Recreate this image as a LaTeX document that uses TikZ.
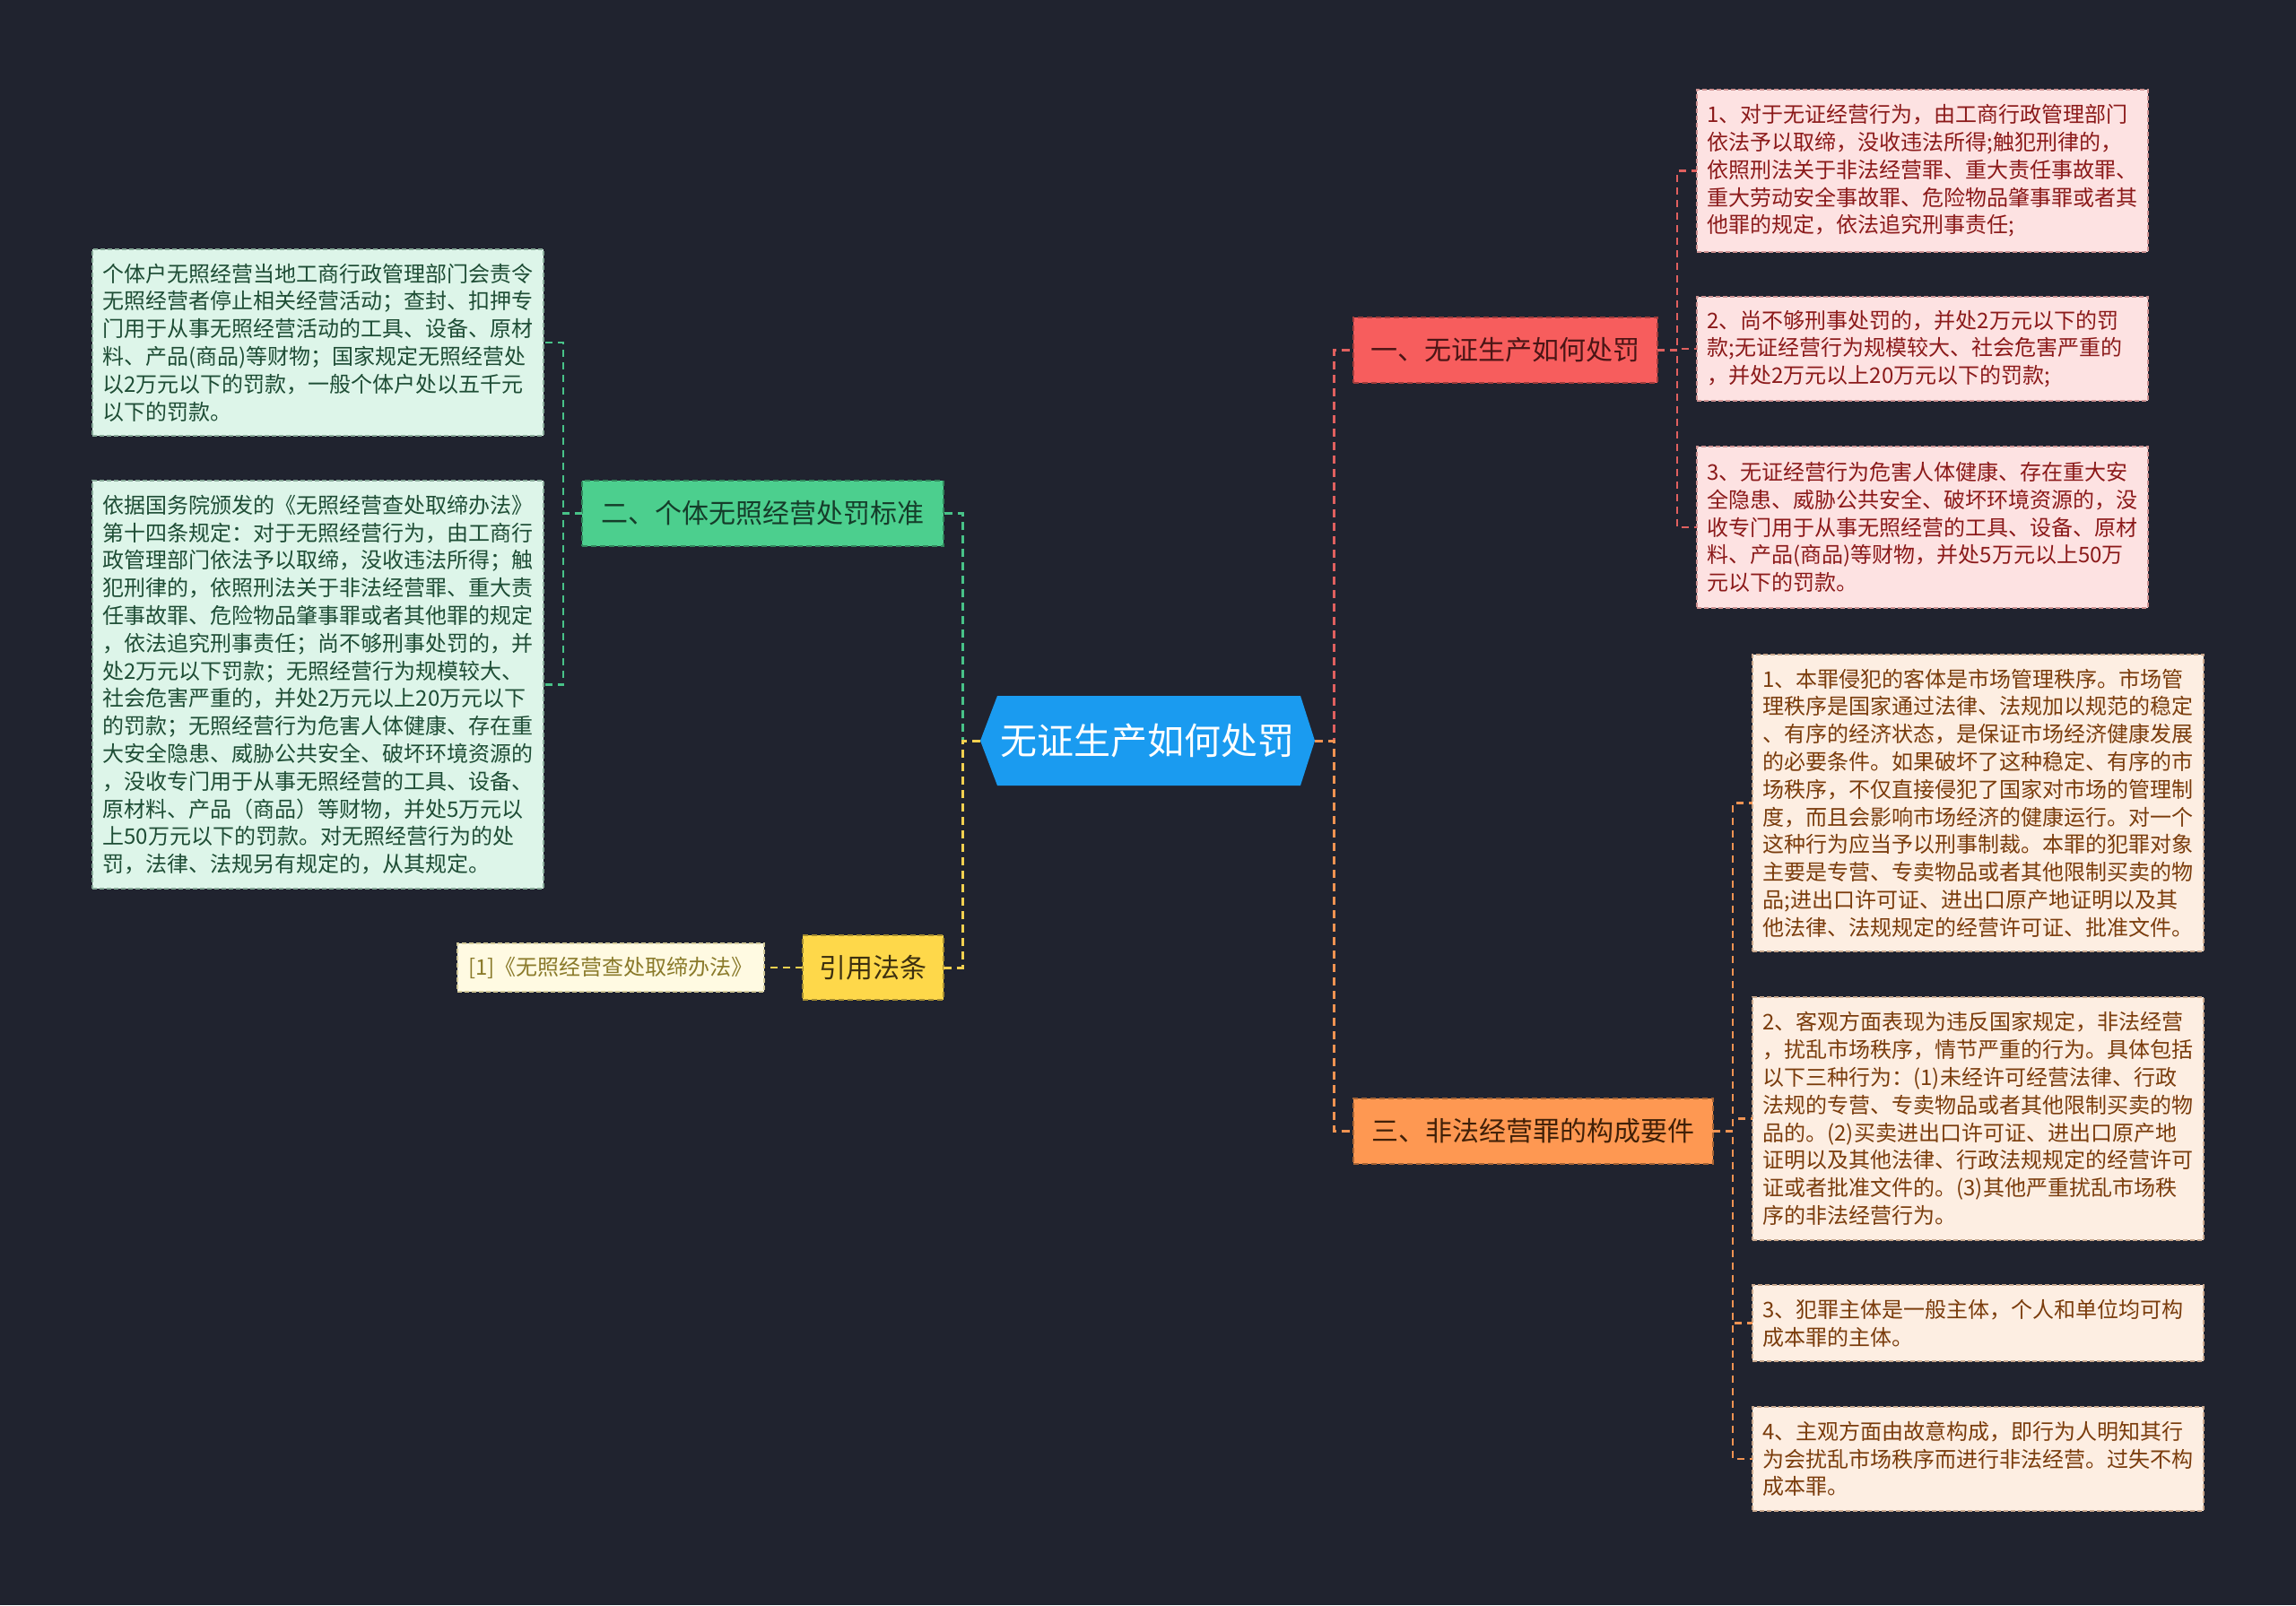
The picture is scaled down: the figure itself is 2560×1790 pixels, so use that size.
\documentclass[tikz,border=0pt]{standalone}
\usepackage{fontspec}
\setmainfont{Noto Sans CJK SC}
\usetikzlibrary{backgrounds}
\definecolor{bgc}{HTML}{20232F}
\definecolor{cblue}{HTML}{1A9BF0}
\definecolor{redB}{HTML}{F75D5D}
\definecolor{redBt}{HTML}{4A1515}
\definecolor{redL}{HTML}{FDE2E2}
\definecolor{redLt}{HTML}{8B1A1A}
\definecolor{redLine}{HTML}{E0605F}
\definecolor{orgB}{HTML}{FE9852}
\definecolor{orgBt}{HTML}{402008}
\definecolor{orgL}{HTML}{FDEEE2}
\definecolor{orgLt}{HTML}{7A3C0C}
\definecolor{orgLine}{HTML}{F09352}
\definecolor{grnB}{HTML}{4CCF8E}
\definecolor{grnBt}{HTML}{153D2A}
\definecolor{grnL}{HTML}{DDF5E9}
\definecolor{grnLt}{HTML}{1E4D35}
\definecolor{grnLine}{HTML}{48C288}
\definecolor{yelB}{HTML}{FED84A}
\definecolor{yelBt}{HTML}{3D3010}
\definecolor{yelL}{HTML}{FFFAE2}
\definecolor{yelLt}{HTML}{8A7A2A}
\definecolor{yelLine}{HTML}{F2D050}
\begin{document}
\begin{tikzpicture}[x=0.5pt,y=-0.5pt,
  base/.style={rectangle, inner sep=0pt, outer sep=0pt},
  br/.style={base, minimum height=36.5pt, font=\fontsize{15pt}{18pt}\selectfont, draw, line width=0.8pt, dash pattern=on 3pt off 2pt},
  leaf/.style={base, minimum width=251.5pt, text width=240pt, align=left, font=\fontsize{12pt}{15.4pt}\selectfont, draw, line width=0.6pt, dash pattern=on 2.5pt off 1.5pt},
  gleaf/.style={leaf, fill=grnL, text=grnLt, draw=grnLt!45!grnL},
  rleaf/.style={leaf, fill=redL, text=redLt, draw=redLt!40!redL},
  oleaf/.style={leaf, fill=orgL, text=orgLt, draw=orgLt!40!orgL},
  con/.style={line width=1.5pt, dash pattern=on 4.5pt off 3pt},
  con2/.style={line width=1.2pt, dash pattern=on 4pt off 3pt}]
\useasboundingbox (0,0) rectangle (2560,1790);
% central node
\node[base, minimum width=186.5pt, minimum height=50pt, text=white, font=\fontsize{20.5pt}{24pt}\selectfont] (c) at (1279.5,826) {无证生产如何处罚};
\begin{scope}[on background layer]
  \fill[bgc] (0,0) rectangle (2560,1790);
  \fill[cblue] ([xshift=9.5pt]c.north west) -- ([xshift=-8pt]c.north east) -- (c.east) -- ([xshift=-8pt]c.south east) -- ([xshift=9.5pt]c.south west) -- (c.west) -- cycle;
\end{scope}
% branches
\node[br, fill=redB, draw=redB!65!black, text=redBt, minimum width=169.5pt] (b1) at (1678.5,390.5) {一、无证生产如何处罚};
\node[br, fill=orgB, draw=orgB!65!black, text=orgBt, minimum width=200.5pt] (b3) at (1709.5,1261.5) {三、非法经营罪的构成要件};
\node[br, fill=grnB, draw=grnB!65!black, text=grnBt, minimum width=201.5pt] (b2) at (850.5,572.5) {二、个体无照经营处罚标准};
\node[br, fill=yelB, draw=yelB!65!black, text=yelBt, minimum width=78.5pt, minimum height=36pt] (b4) at (973.5,1079) {引用法条};
% cite leaf
\node[base, fill=yelL, text=yelLt, draw=yelLt!40!yelL, line width=0.6pt, dash pattern=on 2.5pt off 1.5pt, minimum width=171pt, minimum height=27pt, font=\fontsize{12pt}{15pt}\selectfont] (cite) at (681,1079) {[1]《无照经营查处取缔办法》};
% green leaves
\node[gleaf, minimum height=104pt] (g1) at (354.5,382) {个体户无照经营当地工商行政管理部门会责令\\
无照经营者停止相关经营活动；查封、扣押专\\
门用于从事无照经营活动的工具、设备、原材\\
料、产品(商品)等财物；国家规定无照经营处\\
以2万元以下的罚款，一般个体户处以五千元\\
以下的罚款。};
\node[gleaf, minimum height=227.5pt] (g2) at (354.5,763.5) {依据国务院颁发的《无照经营查处取缔办法》\\
第十四条规定：对于无照经营行为，由工商行\\
政管理部门依法予以取缔，没收违法所得；触\\
犯刑律的，依照刑法关于非法经营罪、重大责\\
任事故罪、危险物品肇事罪或者其他罪的规定\\
，依法追究刑事责任；尚不够刑事处罚的，并\\
处2万元以下罚款；无照经营行为规模较大、\\
社会危害严重的，并处2万元以上20万元以下\\
的罚款；无照经营行为危害人体健康、存在重\\
大安全隐患、威胁公共安全、破坏环境资源的\\
，没收专门用于从事无照经营的工具、设备、\\
原材料、产品（商品）等财物，并处5万元以\\
上50万元以下的罚款。对无照经营行为的处\\
罚，法律、法规另有规定的，从其规定。};
% red leaves
\node[rleaf, minimum height=90.5pt] (r1) at (2143.5,190.5) {1、对于无证经营行为，由工商行政管理部门\\
依法予以取缔，没收违法所得;触犯刑律的，\\
依照刑法关于非法经营罪、重大责任事故罪、\\
重大劳动安全事故罪、危险物品肇事罪或者其\\
他罪的规定，依法追究刑事责任;};
\node[rleaf, minimum height=58pt] (r2) at (2143.5,389) {2、尚不够刑事处罚的，并处2万元以下的罚\\
款;无证经营行为规模较大、社会危害严重的\\
，并处2万元以上20万元以下的罚款;};
\node[rleaf, minimum height=90pt] (r3) at (2143.5,588) {3、无证经营行为危害人体健康、存在重大安\\
全隐患、威胁公共安全、破坏环境资源的，没\\
收专门用于从事无照经营的工具、设备、原材\\
料、产品(商品)等财物，并处5万元以上50万\\
元以下的罚款。};
% orange leaves
\node[oleaf, minimum height=165.5pt] (o1) at (2205.5,895.5) {1、本罪侵犯的客体是市场管理秩序。市场管\\
理秩序是国家通过法律、法规加以规范的稳定\\
、有序的经济状态，是保证市场经济健康发展\\
的必要条件。如果破坏了这种稳定、有序的市\\
场秩序，不仅直接侵犯了国家对市场的管理制\\
度，而且会影响市场经济的健康运行。对一个\\
这种行为应当予以刑事制裁。本罪的犯罪对象\\
主要是专营、专卖物品或者其他限制买卖的物\\
品;进出口许可证、进出口原产地证明以及其\\
他法律、法规规定的经营许可证、批准文件。};
\node[oleaf, minimum height=135.5pt] (o2) at (2205.5,1247.5) {2、客观方面表现为违反国家规定，非法经营\\
，扰乱市场秩序，情节严重的行为。具体包括\\
以下三种行为：(1)未经许可经营法律、行政\\
法规的专营、专卖物品或者其他限制买卖的物\\
品的。(2)买卖进出口许可证、进出口原产地\\
证明以及其他法律、行政法规规定的经营许可\\
证或者批准文件的。(3)其他严重扰乱市场秩\\
序的非法经营行为。};
\node[oleaf, minimum height=42.5pt] (o3) at (2205.5,1475.5) {3、犯罪主体是一般主体，个人和单位均可构\\
成本罪的主体。};
\node[oleaf, minimum height=58pt] (o4) at (2205.5,1627) {4、主观方面由故意构成，即行为人明知其行\\
为会扰乱市场秩序而进行非法经营。过失不构\\
成本罪。};
% connectors
\draw[con, draw=redLine] (c.east) -- ++(21,0) |- (b1.west);
\draw[con, draw=orgLine] (c.east) -- ++(21,0) |- (b3.west);
\draw[con, draw=grnLine] (c.west) -- ++(-20,0) |- (b2.east);
\draw[con, draw=yelLine] (c.west) -- ++(-20,0) |- (b4.east);
\draw[con2, draw=yelLine] (b4.west) -- (cite.east);
\foreach \t in {g1,g2} \draw[con2, draw=grnLine] (b2.west) -- ++(-21,0) |- (\t.east);
\foreach \t in {r1,r2,r3} \draw[con2, draw=redLine] (b1.east) -- ++(22,0) |- (\t.west);
\foreach \t in {o1,o2,o3,o4} \draw[con2, draw=orgLine] (b3.east) -- ++(22,0) |- (\t.west);
\end{tikzpicture}
\end{document}
